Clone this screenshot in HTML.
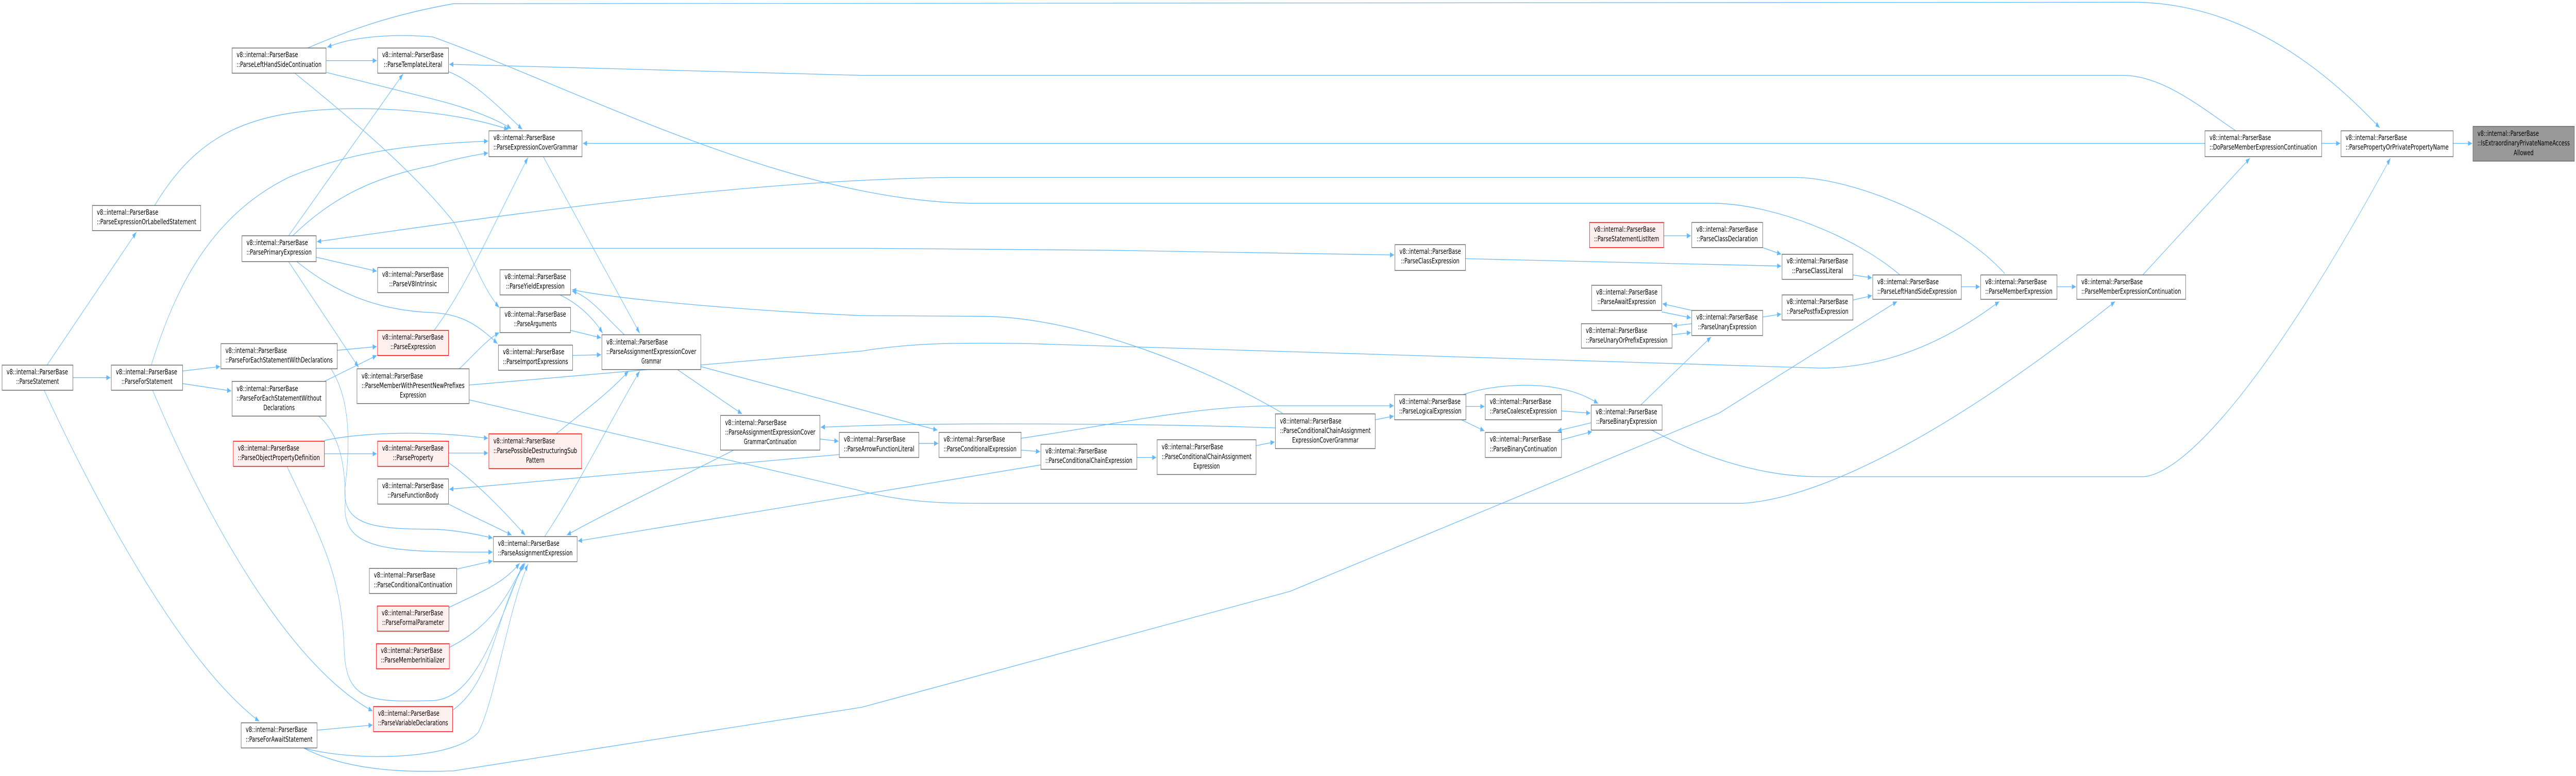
<!DOCTYPE html>
<html><head><meta charset="utf-8"><style>
html,body{margin:0;padding:0;background:#fff;overflow:hidden;width:100vw;height:100vh;}
svg{display:block;position:absolute;left:0;top:0;width:100vw;height:100vh;}
text{font-family:"DejaVu Sans","Liberation Sans",sans-serif;font-size:10px;fill:#000;}
.n{fill:#fff;stroke:#666;stroke-width:1;}
.r{fill:#fff0f0;stroke:#f00;stroke-width:1;}
.g{fill:#999;stroke:#666;stroke-width:1;}
.e{fill:none;stroke:#63b8ff;stroke-width:0.9;marker-end:url(#a);}
.m{text-anchor:middle;}
</style></head><body>
<svg viewBox="0 0 6249 1507" preserveAspectRatio="none" xmlns="http://www.w3.org/2000/svg">
<defs><marker id="a" markerUnits="userSpaceOnUse" markerWidth="10" markerHeight="7" refX="10" refY="3.5" orient="auto"><path d="M0,0 L10,3.5 L0,7 z" fill="#63b8ff"/></marker></defs>
<g transform="scale(1,1.4353)">
<g>
<path class="e" d="M114,494 L331,314"/>
<path class="e" d="M177,511 L268,511"/>
<path class="e" d="M107,528 C250,700 450,900 629,976"/>
<path class="e" d="M375,278 C460,200 560,160 750,150 C900,142 1100,150 1233,175"/>
<path class="e" d="M367,494 C430,380 520,290 700,240 C850,205 1000,195 1184,191"/>
<path class="e" d="M792,98 L1050,134 C1130,145 1200,160 1240,174"/>
<path class="e" d="M1088,97 C1150,110 1220,150 1267,175"/>
<path class="e" d="M710,319 C800,270 900,240 1050,224 C1100,215 1150,210 1184,207"/>
<path class="e" d="M1053,447 C1130,390 1200,300 1281,213"/>
<path class="e" d="M746,65 C850,40 950,20 1100,5 L5180,3 C5450,5 5650,100 5773,173"/>
<path class="e" d="M4609,372 C4500,320 4300,275 4150,275 L2350,275 C1900,270 1400,120 1050,50 C950,45 850,50 794,64"/>
<path class="e" d="M4863,370 C4750,300 4500,240 4350,240 L2300,240 C1800,245 1300,285 769,327"/>
<path class="e" d="M767,336 L2100,336 C2500,337 3000,340 3382,345"/>
<path class="e" d="M767,348 L914,367"/>
<path class="e" d="M700,319 L978,100"/>
<path class="e" d="M700,354 L870,497"/>
<path class="e" d="M720,354 C800,390 900,420 1050,423 C1120,425 1160,440 1207,465"/>
<path class="e" d="M713,98 C850,160 1000,230 1100,300 C1140,340 1170,390 1211,416"/>
<path class="e" d="M792,82 L914,82"/>
<path class="e" d="M443,502 L534,496"/>
<path class="e" d="M443,519 L561,529"/>
<path class="e" d="M370,528 C500,700 700,900 904,962"/>
<path class="e" d="M818,474 L914,469"/>
<path class="e" d="M803,499 C850,540 850,600 837,660 C830,710 900,716 1050,716 C1100,717 1150,722 1195,728"/>
<path class="e" d="M787,516 L914,481"/>
<path class="e" d="M773,563 C830,590 840,640 837,690 C840,745 950,747 1195,747"/>
<path class="e" d="M787,614 L914,614"/>
<path class="e" d="M787,596 C850,588 1000,580 1184,593"/>
<path class="e" d="M696,631 C780,730 830,780 835,880 C840,950 900,950 1050,948 C1150,945 1200,860 1268,763"/>
<path class="e" d="M769,988 L904,981"/>
<path class="e" d="M736,1012 C850,1030 1100,1030 1160,991 C1200,950 1230,830 1281,763"/>
<path class="e" d="M736,1012 C850,1045 1000,1045 1100,1043 L2090,957 L3130,800 L4170,559 L4602,408"/>
<path class="e" d="M5424,177 C5350,150 5250,102 5150,102 L2090,102 L1090,87"/>
<path class="e" d="M5349,194 L1414,194"/>
<path class="e" d="M1318,212 L1552,451"/>
<path class="e" d="M1358,399 C1400,410 1440,430 1462,451"/>
<path class="e" d="M1515,453 C1470,430 1430,400 1388,394"/>
<path class="e" d="M3111,559 C2900,490 2600,428 2380,428 L2090,427 C1800,420 1500,405 1388,392"/>
<path class="e" d="M1384,447 L1458,457"/>
<path class="e" d="M1389,481 L1458,480"/>
<path class="e" d="M1114,499 C1150,480 1180,460 1211,450"/>
<path class="e" d="M1138,521 L2090,475 C2200,465 2300,463 2500,465 L4414,498 C4600,498 4750,450 4850,408"/>
<path class="e" d="M1138,541 L2080,663 C2200,681 2300,681 2400,681 L4227,681 C4400,675 4700,600 5131,408"/>
<path class="e" d="M1088,613 L1184,613"/>
<path class="e" d="M1088,626 C1150,650 1220,690 1274,724"/>
<path class="e" d="M1088,682 C1150,700 1200,712 1241,724"/>
<path class="e" d="M2036,615 L1090,662"/>
<path class="e" d="M1108,770 L1195,759"/>
<path class="e" d="M1089,822 C1170,800 1220,790 1261,762"/>
<path class="e" d="M1090,876 C1180,850 1220,820 1271,762"/>
<path class="e" d="M1098,961 C1200,920 1200,830 1274,762"/>
<path class="e" d="M1349,587 C1420,555 1480,530 1525,502"/>
<path class="e" d="M1321,726 C1400,660 1480,570 1552,502"/>
<path class="e" d="M1643,500 L1800,560"/>
<path class="e" d="M1700,496 L2274,582"/>
<path class="e" d="M1989,594 L2034,597"/>
<path class="e" d="M3094,579 C2800,573 2300,572 2090,576 L1991,578"/>
<path class="e" d="M1780,609 C1600,660 1450,700 1375,724"/>
<path class="e" d="M2525,629 L2080,670 L1402,732"/>
<path class="e" d="M2229,600 L2276,600"/>
<path class="e" d="M2477,609 L2523,611"/>
<path class="e" d="M2477,593 C2700,575 2900,549 3100,549 L3381,549"/>
<path class="e" d="M2758,619 L2805,619"/>
<path class="e" d="M3047,603 L3092,598"/>
<path class="e" d="M3336,568 L3381,563"/>
<path class="e" d="M3556,550 L3601,550"/>
<path class="e" d="M3545,568 L3601,583"/>
<path class="e" d="M3549,534 C3620,520 3780,510 3877,546"/>
<path class="e" d="M3788,556 L3858,559"/>
<path class="e" d="M3788,595 L3862,584"/>
<path class="e" d="M3860,572 L3778,583"/>
<path class="e" d="M3980,548 L4151,456"/>
<path class="e" d="M4007,582 C4100,610 4250,645 4414,645 L5200,645 C5300,640 5500,520 5799,214"/>
<path class="e" d="M4036,319 L4102,319"/>
<path class="e" d="M4276,335 L4321,344"/>
<path class="e" d="M3555,350 L4321,360"/>
<path class="e" d="M4104,420 L4033,411"/>
<path class="e" d="M4031,422 L4102,430"/>
<path class="e" d="M4104,438 L4058,441"/>
<path class="e" d="M4056,453 L4102,450"/>
<path class="e" d="M4276,429 L4321,425"/>
<path class="e" d="M4495,372 L4541,376"/>
<path class="e" d="M4495,406 L4541,400"/>
<path class="e" d="M4758,388 L4803,388"/>
<path class="e" d="M4990,388 L5036,388"/>
<path class="e" d="M5198,372 C5300,310 5400,250 5458,214"/>
<path class="e" d="M5632,194 L5677,194"/>
<path class="e" d="M5951,194 L5997,194"/>
</g>
<g>
<rect class="n" x="5" y="494" width="172" height="34"/><text x="16" y="506.5" textLength="149" lengthAdjust="spacingAndGlyphs">v8::internal::ParserBase</text><text class="m" x="91" y="519.5" textLength="104" lengthAdjust="spacingAndGlyphs">::ParseStatement</text>
<rect class="n" x="224" y="278" width="263" height="34"/><text x="235" y="290.5" textLength="149" lengthAdjust="spacingAndGlyphs">v8::internal::ParserBase</text><text class="m" x="355.5" y="303.5" textLength="241" lengthAdjust="spacingAndGlyphs">::ParseExpressionOrLabelledStatement</text>
<rect class="n" x="270" y="494" width="173" height="34"/><text x="281" y="506.5" textLength="149" lengthAdjust="spacingAndGlyphs">v8::internal::ParserBase</text><text class="m" x="356.5" y="519.5" textLength="124" lengthAdjust="spacingAndGlyphs">::ParseForStatement</text>
<rect class="n" x="563" y="65" width="228" height="34"/><text x="574" y="77.5" textLength="149" lengthAdjust="spacingAndGlyphs">v8::internal::ParserBase</text><text class="m" x="677" y="90.5" textLength="206" lengthAdjust="spacingAndGlyphs">::ParseLeftHandSideContinuation</text>
<rect class="n" x="587" y="319" width="180" height="35"/><text x="598" y="331.5" textLength="149" lengthAdjust="spacingAndGlyphs">v8::internal::ParserBase</text><text class="m" x="677" y="344.5" textLength="158" lengthAdjust="spacingAndGlyphs">::ParsePrimaryExpression</text>
<rect class="n" x="536" y="465" width="282" height="34"/><text x="547" y="477.5" textLength="149" lengthAdjust="spacingAndGlyphs">v8::internal::ParserBase</text><text class="m" x="677" y="490.5" textLength="260" lengthAdjust="spacingAndGlyphs">::ParseForEachStatementWithDeclarations</text>
<rect class="n" x="563" y="516" width="228" height="47"/><text x="574" y="529" textLength="149" lengthAdjust="spacingAndGlyphs">v8::internal::ParserBase</text><text x="574" y="542" textLength="206" lengthAdjust="spacingAndGlyphs">::ParseForEachStatementWithout</text><text class="m" x="677" y="555" textLength="76" lengthAdjust="spacingAndGlyphs">Declarations</text>
<rect class="r" x="566" y="597" width="221" height="34"/><text x="577" y="609.5" textLength="149" lengthAdjust="spacingAndGlyphs">v8::internal::ParserBase</text><text class="m" x="676.5" y="622.5" textLength="199" lengthAdjust="spacingAndGlyphs">::ParseObjectPropertyDefinition</text>
<rect class="n" x="585" y="978" width="184" height="34"/><text x="596" y="990.5" textLength="149" lengthAdjust="spacingAndGlyphs">v8::internal::ParserBase</text><text class="m" x="677" y="1003.5" textLength="162" lengthAdjust="spacingAndGlyphs">::ParseForAwaitStatement</text>
<rect class="n" x="916" y="65" width="172" height="34"/><text x="927" y="77.5" textLength="149" lengthAdjust="spacingAndGlyphs">v8::internal::ParserBase</text><text class="m" x="1002" y="90.5" textLength="142" lengthAdjust="spacingAndGlyphs">::ParseTemplateLiteral</text>
<rect class="n" x="916" y="362" width="172" height="34"/><text x="927" y="374.5" textLength="149" lengthAdjust="spacingAndGlyphs">v8::internal::ParserBase</text><text class="m" x="1002" y="387.5" textLength="116" lengthAdjust="spacingAndGlyphs">::ParseV8Intrinsic</text>
<rect class="r" x="916" y="447" width="172" height="34"/><text x="927" y="459.5" textLength="149" lengthAdjust="spacingAndGlyphs">v8::internal::ParserBase</text><text class="m" x="1002" y="472.5" textLength="110" lengthAdjust="spacingAndGlyphs">::ParseExpression</text>
<rect class="n" x="866" y="499" width="272" height="47"/><text x="877" y="512" textLength="149" lengthAdjust="spacingAndGlyphs">v8::internal::ParserBase</text><text x="877" y="525" textLength="250" lengthAdjust="spacingAndGlyphs">::ParseMemberWithPresentNewPrefixes</text><text class="m" x="1002" y="538" textLength="64" lengthAdjust="spacingAndGlyphs">Expression</text>
<rect class="r" x="916" y="597" width="172" height="34"/><text x="927" y="609.5" textLength="149" lengthAdjust="spacingAndGlyphs">v8::internal::ParserBase</text><text class="m" x="1002" y="622.5" textLength="98" lengthAdjust="spacingAndGlyphs">::ParseProperty</text>
<rect class="n" x="916" y="648" width="172" height="34"/><text x="927" y="660.5" textLength="149" lengthAdjust="spacingAndGlyphs">v8::internal::ParserBase</text><text class="m" x="1002" y="673.5" textLength="124" lengthAdjust="spacingAndGlyphs">::ParseFunctionBody</text>
<rect class="n" x="896" y="769" width="212" height="34"/><text x="907" y="781.5" textLength="149" lengthAdjust="spacingAndGlyphs">v8::internal::ParserBase</text><text class="m" x="1002" y="794.5" textLength="190" lengthAdjust="spacingAndGlyphs">::ParseConditionalContinuation</text>
<rect class="r" x="915" y="820" width="174" height="34"/><text x="926" y="832.5" textLength="149" lengthAdjust="spacingAndGlyphs">v8::internal::ParserBase</text><text class="m" x="1002" y="845.5" textLength="150" lengthAdjust="spacingAndGlyphs">::ParseFormalParameter</text>
<rect class="r" x="913" y="871" width="177" height="34"/><text x="924" y="883.5" textLength="149" lengthAdjust="spacingAndGlyphs">v8::internal::ParserBase</text><text class="m" x="1001.5" y="896.5" textLength="155" lengthAdjust="spacingAndGlyphs">::ParseMemberInitializer</text>
<rect class="r" x="906" y="956" width="192" height="34"/><text x="917" y="968.5" textLength="149" lengthAdjust="spacingAndGlyphs">v8::internal::ParserBase</text><text class="m" x="1002" y="981.5" textLength="170" lengthAdjust="spacingAndGlyphs">::ParseVariableDeclarations</text>
<rect class="n" x="1186" y="177" width="226" height="35"/><text x="1197" y="189.5" textLength="149" lengthAdjust="spacingAndGlyphs">v8::internal::ParserBase</text><text class="m" x="1299" y="202.5" textLength="204" lengthAdjust="spacingAndGlyphs">::ParseExpressionCoverGrammar</text>
<rect class="n" x="1213" y="365" width="171" height="34"/><text x="1224" y="377.5" textLength="149" lengthAdjust="spacingAndGlyphs">v8::internal::ParserBase</text><text class="m" x="1298.5" y="390.5" textLength="142" lengthAdjust="spacingAndGlyphs">::ParseYieldExpression</text>
<rect class="n" x="1213" y="416" width="171" height="34"/><text x="1224" y="428.5" textLength="149" lengthAdjust="spacingAndGlyphs">v8::internal::ParserBase</text><text class="m" x="1298.5" y="441.5" textLength="104" lengthAdjust="spacingAndGlyphs">::ParseArguments</text>
<rect class="n" x="1209" y="467" width="180" height="34"/><text x="1220" y="479.5" textLength="149" lengthAdjust="spacingAndGlyphs">v8::internal::ParserBase</text><text class="m" x="1299" y="492.5" textLength="158" lengthAdjust="spacingAndGlyphs">::ParseImportExpressions</text>
<rect class="n" x="1460" y="453" width="240" height="47"/><text x="1471" y="466" textLength="149" lengthAdjust="spacingAndGlyphs">v8::internal::ParserBase</text><text x="1471" y="479" textLength="218" lengthAdjust="spacingAndGlyphs">::ParseAssignmentExpressionCover</text><text class="m" x="1580" y="492" textLength="48" lengthAdjust="spacingAndGlyphs">Grammar</text>
<rect class="r" x="1186" y="587" width="225" height="47"/><text x="1197" y="600" textLength="149" lengthAdjust="spacingAndGlyphs">v8::internal::ParserBase</text><text x="1197" y="613" textLength="203" lengthAdjust="spacingAndGlyphs">::ParsePossibleDestructuringSub</text><text class="m" x="1298.5" y="626" textLength="45" lengthAdjust="spacingAndGlyphs">Pattern</text>
<rect class="n" x="1748" y="562" width="241" height="47"/><text x="1759" y="575" textLength="149" lengthAdjust="spacingAndGlyphs">v8::internal::ParserBase</text><text x="1759" y="588" textLength="219" lengthAdjust="spacingAndGlyphs">::ParseAssignmentExpressionCover</text><text class="m" x="1868.5" y="601" textLength="128" lengthAdjust="spacingAndGlyphs">GrammarContinuation</text>
<rect class="n" x="2036" y="585" width="193" height="34"/><text x="2047" y="597.5" textLength="149" lengthAdjust="spacingAndGlyphs">v8::internal::ParserBase</text><text class="m" x="2132.5" y="610.5" textLength="171" lengthAdjust="spacingAndGlyphs">::ParseArrowFunctionLiteral</text>
<rect class="n" x="1197" y="726" width="203" height="34"/><text x="1208" y="738.5" textLength="149" lengthAdjust="spacingAndGlyphs">v8::internal::ParserBase</text><text class="m" x="1298.5" y="751.5" textLength="181" lengthAdjust="spacingAndGlyphs">::ParseAssignmentExpression</text>
<rect class="n" x="2278" y="585" width="199" height="34"/><text x="2289" y="597.5" textLength="149" lengthAdjust="spacingAndGlyphs">v8::internal::ParserBase</text><text class="m" x="2377.5" y="610.5" textLength="177" lengthAdjust="spacingAndGlyphs">::ParseConditionalExpression</text>
<rect class="n" x="2525" y="601" width="233" height="34"/><text x="2536" y="613.5" textLength="149" lengthAdjust="spacingAndGlyphs">v8::internal::ParserBase</text><text class="m" x="2641.5" y="626.5" textLength="211" lengthAdjust="spacingAndGlyphs">::ParseConditionalChainExpression</text>
<rect class="n" x="2807" y="595" width="240" height="47"/><text x="2818" y="608" textLength="149" lengthAdjust="spacingAndGlyphs">v8::internal::ParserBase</text><text x="2818" y="621" textLength="218" lengthAdjust="spacingAndGlyphs">::ParseConditionalChainAssignment</text><text class="m" x="2927" y="634" textLength="64" lengthAdjust="spacingAndGlyphs">Expression</text>
<rect class="n" x="3094" y="560" width="242" height="47"/><text x="3105" y="573" textLength="149" lengthAdjust="spacingAndGlyphs">v8::internal::ParserBase</text><text x="3105" y="586" textLength="220" lengthAdjust="spacingAndGlyphs">::ParseConditionalChainAssignment</text><text class="m" x="3215" y="599" textLength="161" lengthAdjust="spacingAndGlyphs">ExpressionCoverGrammar</text>
<rect class="n" x="3384" y="331" width="171" height="35"/><text x="3395" y="343.5" textLength="149" lengthAdjust="spacingAndGlyphs">v8::internal::ParserBase</text><text class="m" x="3469.5" y="356.5" textLength="142" lengthAdjust="spacingAndGlyphs">::ParseClassExpression</text>
<rect class="n" x="3383" y="534" width="173" height="34"/><text x="3394" y="546.5" textLength="149" lengthAdjust="spacingAndGlyphs">v8::internal::ParserBase</text><text class="m" x="3469.5" y="559.5" textLength="151" lengthAdjust="spacingAndGlyphs">::ParseLogicalExpression</text>
<rect class="n" x="3603" y="534" width="185" height="34"/><text x="3614" y="546.5" textLength="149" lengthAdjust="spacingAndGlyphs">v8::internal::ParserBase</text><text class="m" x="3695.5" y="559.5" textLength="163" lengthAdjust="spacingAndGlyphs">::ParseCoalesceExpression</text>
<rect class="n" x="3603" y="585" width="185" height="34"/><text x="3614" y="597.5" textLength="149" lengthAdjust="spacingAndGlyphs">v8::internal::ParserBase</text><text class="m" x="3695.5" y="610.5" textLength="163" lengthAdjust="spacingAndGlyphs">::ParseBinaryContinuation</text>
<rect class="n" x="3860" y="548" width="172" height="34"/><text x="3871" y="560.5" textLength="149" lengthAdjust="spacingAndGlyphs">v8::internal::ParserBase</text><text class="m" x="3946" y="573.5" textLength="148" lengthAdjust="spacingAndGlyphs">::ParseBinaryExpression</text>
<rect class="r" x="3856" y="301" width="180" height="34"/><text x="3867" y="313.5" textLength="149" lengthAdjust="spacingAndGlyphs">v8::internal::ParserBase</text><text class="m" x="3946" y="326.5" textLength="158" lengthAdjust="spacingAndGlyphs">::ParseStatementListItem</text>
<rect class="n" x="3861" y="386" width="170" height="34"/><text x="3872" y="398.5" textLength="149" lengthAdjust="spacingAndGlyphs">v8::internal::ParserBase</text><text class="m" x="3946" y="411.5" textLength="142" lengthAdjust="spacingAndGlyphs">::ParseAwaitExpression</text>
<rect class="n" x="3836" y="438" width="220" height="33"/><text x="3847" y="450.5" textLength="149" lengthAdjust="spacingAndGlyphs">v8::internal::ParserBase</text><text class="m" x="3946" y="463.5" textLength="198" lengthAdjust="spacingAndGlyphs">::ParseUnaryOrPrefixExpression</text>
<rect class="n" x="4104" y="301" width="172" height="34"/><text x="4115" y="313.5" textLength="149" lengthAdjust="spacingAndGlyphs">v8::internal::ParserBase</text><text class="m" x="4190" y="326.5" textLength="148" lengthAdjust="spacingAndGlyphs">::ParseClassDeclaration</text>
<rect class="n" x="4104" y="420" width="172" height="34"/><text x="4115" y="432.5" textLength="149" lengthAdjust="spacingAndGlyphs">v8::internal::ParserBase</text><text class="m" x="4190" y="445.5" textLength="142" lengthAdjust="spacingAndGlyphs">::ParseUnaryExpression</text>
<rect class="n" x="4323" y="344" width="172" height="34"/><text x="4334" y="356.5" textLength="149" lengthAdjust="spacingAndGlyphs">v8::internal::ParserBase</text><text class="m" x="4409" y="369.5" textLength="124" lengthAdjust="spacingAndGlyphs">::ParseClassLiteral</text>
<rect class="n" x="4323" y="399" width="172" height="34"/><text x="4334" y="411.5" textLength="149" lengthAdjust="spacingAndGlyphs">v8::internal::ParserBase</text><text class="m" x="4409" y="424.5" textLength="150" lengthAdjust="spacingAndGlyphs">::ParsePostfixExpression</text>
<rect class="n" x="4543" y="372" width="215" height="33"/><text x="4554" y="384.5" textLength="149" lengthAdjust="spacingAndGlyphs">v8::internal::ParserBase</text><text class="m" x="4650.5" y="397.5" textLength="193" lengthAdjust="spacingAndGlyphs">::ParseLeftHandSideExpression</text>
<rect class="n" x="4805" y="372" width="185" height="33"/><text x="4816" y="384.5" textLength="149" lengthAdjust="spacingAndGlyphs">v8::internal::ParserBase</text><text class="m" x="4897.5" y="397.5" textLength="163" lengthAdjust="spacingAndGlyphs">::ParseMemberExpression</text>
<rect class="n" x="5038" y="372" width="264" height="33"/><text x="5049" y="384.5" textLength="149" lengthAdjust="spacingAndGlyphs">v8::internal::ParserBase</text><text class="m" x="5170" y="397.5" textLength="242" lengthAdjust="spacingAndGlyphs">::ParseMemberExpressionContinuation</text>
<rect class="n" x="5349" y="177" width="283" height="35"/><text x="5360" y="189.5" textLength="149" lengthAdjust="spacingAndGlyphs">v8::internal::ParserBase</text><text class="m" x="5490.5" y="202.5" textLength="261" lengthAdjust="spacingAndGlyphs">::DoParseMemberExpressionContinuation</text>
<rect class="n" x="5679" y="177" width="272" height="35"/><text x="5690" y="189.5" textLength="149" lengthAdjust="spacingAndGlyphs">v8::internal::ParserBase</text><text class="m" x="5815" y="202.5" textLength="250" lengthAdjust="spacingAndGlyphs">::ParsePropertyOrPrivatePropertyName</text>
<rect class="g" x="5999" y="171" width="246" height="47"/><text x="6010" y="184" textLength="149" lengthAdjust="spacingAndGlyphs">v8::internal::ParserBase</text><text x="6010" y="197" textLength="224" lengthAdjust="spacingAndGlyphs">::IsExtraordinaryPrivateNameAccess</text><text class="m" x="6122" y="210" textLength="48" lengthAdjust="spacingAndGlyphs">Allowed</text>
</g>
</g>
</svg>
</body></html>
